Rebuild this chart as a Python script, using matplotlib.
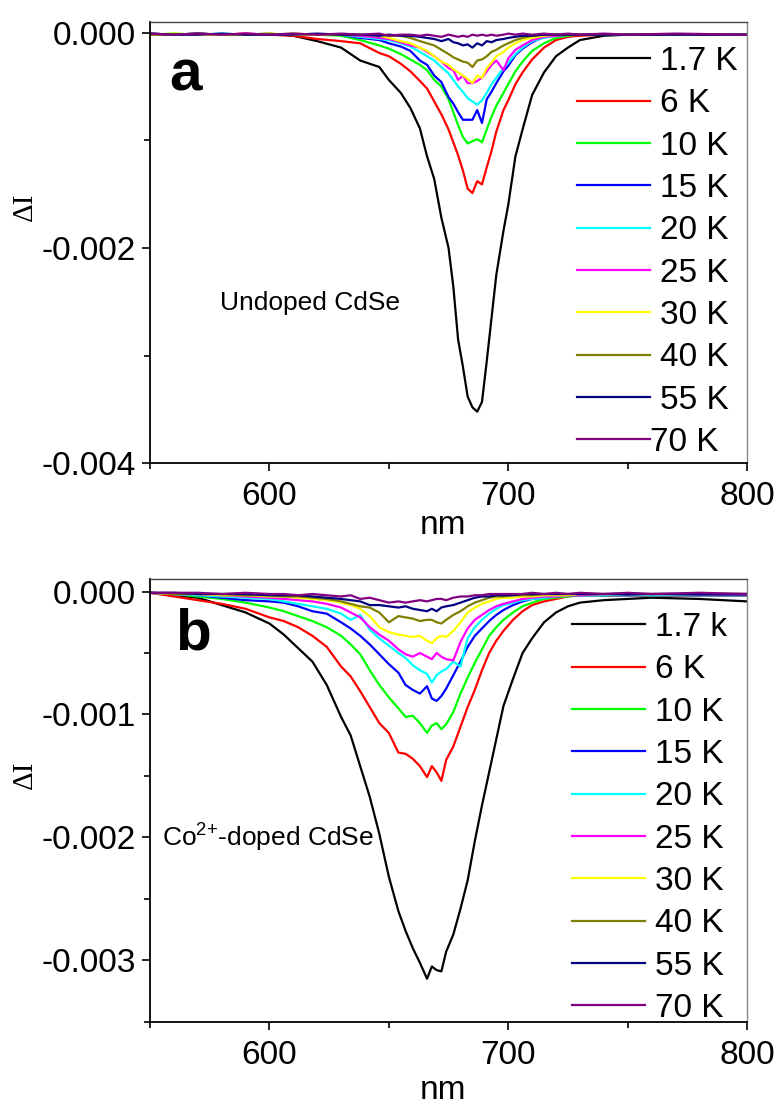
import matplotlib
matplotlib.use("Agg")
import matplotlib.pyplot as plt
from matplotlib.ticker import MultipleLocator, FormatStrFormatter

plt.rcParams['font.family'] = ['Liberation Sans', 'DejaVu Sans']
plt.rcParams['mathtext.fontset'] = 'custom'
plt.rcParams['mathtext.rm'] = 'Liberation Sans'
plt.rcParams['mathtext.it'] = 'Liberation Sans:italic'

COLORS = ['#000000', '#ff0000', '#00ff00', '#0000ff', '#00ffff',
          '#ff00ff', '#ffff00', '#808000', '#000080', '#800080']
LABELS_A = ['1.7 K', '6 K', '10 K', '15 K', '20 K', '25 K', '30 K', '40 K', '55 K', '70 K']
LABELS_B = ['1.7 k', '6 K', '10 K', '15 K', '20 K', '25 K', '30 K', '40 K', '55 K', '70 K']

# ---- panel a: undoped CdSe (values in units of 1e-3) ----
XA = [550, 560, 570, 580, 590, 600, 610, 620, 630, 638, 646, 650, 655, 659, 663, 666, 669, 672,
      675, 677, 679, 681, 683, 685, 687, 689, 691, 693, 695, 698, 700, 703, 706, 710, 715, 720,
      725, 730, 740, 750, 770, 800]
A_17K = [-0.01, -0.02, -0.01, -0.02, -0.02, -0.01, -0.03, -0.08, -0.14, -0.26, -0.32, -0.44, -0.56, -0.70,
         -0.89, -1.15, -1.36, -1.72, -2.00, -2.36, -2.85, -3.10, -3.38, -3.48, -3.52, -3.43, -3.05, -2.65,
         -2.25, -1.84, -1.60, -1.15, -0.90, -0.58, -0.37, -0.22, -0.14, -0.07, -0.03, -0.02, -0.02, -0.02]
A_6K = [-0.02, -0.02, -0.02, -0.02, -0.01, -0.02, -0.03, -0.06, -0.08, -0.10, -0.19, -0.22, -0.29, -0.36,
        -0.45, -0.52, -0.64, -0.76, -0.90, -1.02, -1.14, -1.28, -1.45, -1.49, -1.38, -1.41, -1.25, -1.10,
        -0.92, -0.72, -0.63, -0.48, -0.37, -0.25, -0.14, -0.07, -0.04, -0.03, -0.02, -0.02, -0.02, -0.02]
A_10K = [-0.02, -0.01, -0.02, -0.02, -0.02, -0.02, -0.02, -0.02, -0.03, -0.07, -0.12, -0.15, -0.20, -0.25,
         -0.30, -0.35, -0.44, -0.50, -0.62, -0.74, -0.86, -0.97, -1.03, -1.01, -0.99, -1.02, -0.90, -0.78,
         -0.68, -0.56, -0.48, -0.36, -0.27, -0.17, -0.10, -0.05, -0.03, -0.02, -0.02, -0.02, -0.02, -0.02]
A_15K = [-0.02, -0.02, -0.01, -0.02, -0.02, -0.02, -0.02, -0.02, -0.02, -0.05, -0.07, -0.10, -0.13, -0.17,
         -0.26, -0.30, -0.40, -0.46, -0.60, -0.66, -0.74, -0.81, -0.81, -0.81, -0.72, -0.84, -0.62, -0.55,
         -0.47, -0.36, -0.31, -0.21, -0.15, -0.09, -0.04, -0.03, -0.02, -0.02, -0.02, -0.02, -0.02, -0.02]
A_20K = [-0.02, -0.02, -0.02, -0.01, -0.02, -0.02, -0.02, -0.02, -0.02, -0.04, -0.06, -0.07, -0.10, -0.13,
         -0.18, -0.22, -0.26, -0.32, -0.38, -0.44, -0.50, -0.55, -0.61, -0.64, -0.67, -0.63, -0.56, -0.48,
         -0.42, -0.33, -0.28, -0.20, -0.14, -0.08, -0.05, -0.03, -0.02, -0.02, -0.02, -0.02, -0.02, -0.02]
A_25K = [-0.02, -0.02, -0.02, -0.02, -0.01, -0.02, -0.02, -0.02, -0.02, -0.03, -0.05, -0.06, -0.09, -0.12,
         -0.14, -0.18, -0.22, -0.27, -0.33, -0.35, -0.44, -0.40, -0.47, -0.47, -0.45, -0.42, -0.36, -0.30,
         -0.26, -0.35, -0.24, -0.16, -0.12, -0.07, -0.04, -0.03, -0.02, -0.02, -0.02, -0.02, -0.02, -0.02]
A_30K = [-0.02, -0.01, -0.02, -0.02, -0.02, -0.01, -0.02, -0.02, -0.02, -0.02, -0.03, -0.05, -0.08, -0.10,
         -0.14, -0.17, -0.22, -0.27, -0.30, -0.34, -0.37, -0.40, -0.43, -0.47, -0.40, -0.42, -0.33, -0.28,
         -0.22, -0.18, -0.14, -0.10, -0.07, -0.05, -0.03, -0.02, -0.02, -0.02, -0.02, -0.02, -0.02, -0.02]
A_40K = [-0.02, -0.02, -0.01, -0.02, -0.02, -0.02, -0.01, -0.02, -0.02, -0.02, -0.02, -0.03, -0.03, -0.05,
         -0.08, -0.10, -0.12, -0.16, -0.20, -0.23, -0.25, -0.27, -0.28, -0.32, -0.26, -0.25, -0.22, -0.18,
         -0.16, -0.12, -0.10, -0.07, -0.05, -0.03, -0.02, -0.02, -0.02, -0.02, -0.02, -0.02, -0.02, -0.02]
A_55K = [-0.01, -0.02, -0.02, -0.01, -0.02, -0.02, -0.02, -0.01, -0.02, -0.02, -0.03, -0.02, -0.03, -0.03,
         -0.04, -0.05, -0.06, -0.08, -0.06, -0.09, -0.10, -0.12, -0.11, -0.14, -0.10, -0.12, -0.08, -0.09,
         -0.07, -0.06, -0.05, -0.04, -0.03, -0.03, -0.02, -0.02, -0.02, -0.02, -0.02, -0.02, -0.02, -0.02]
A_70K = [-0.01, -0.02, -0.01, -0.02, -0.01, -0.02, -0.01, -0.02, -0.01, -0.02, -0.01, -0.03, -0.02, -0.02,
         -0.03, -0.02, -0.03, -0.04, -0.02, -0.03, -0.04, -0.03, -0.04, -0.02, -0.03, -0.02, -0.03, -0.02,
         -0.03, -0.02, -0.01, -0.02, -0.01, -0.02, -0.01, -0.02, -0.01, -0.02, -0.01, -0.02, -0.01, -0.02]
SERIES_A = [A_17K, A_6K, A_10K, A_15K, A_20K, A_25K, A_30K, A_40K, A_55K, A_70K]

# ---- panel b: Co2+-doped CdSe (values in units of 1e-3) ----
XB = [550, 560, 570, 580, 590, 600, 606, 612, 618, 624, 630, 634, 638, 642, 646, 650, 654, 657, 660,
      663, 666, 668, 670, 672, 674, 677, 680, 683, 686, 689, 692, 695, 698, 702, 706, 710, 715, 720,
      725, 730, 740, 750, 760, 780, 800]
B_17K = [-0.01, -0.03, -0.05, -0.11, -0.17, -0.26, -0.35, -0.46, -0.57, -0.76, -1.02, -1.17, -1.42, -1.67,
         -1.97, -2.32, -2.60, -2.76, -2.90, -3.02, -3.15, -3.05, -3.08, -3.09, -2.93, -2.79, -2.58, -2.35,
         -2.03, -1.74, -1.47, -1.20, -0.93, -0.71, -0.50, -0.38, -0.25, -0.17, -0.12, -0.09, -0.07, -0.06,
         -0.05, -0.06, -0.08]
B_6K = [-0.01, -0.04, -0.07, -0.10, -0.14, -0.21, -0.24, -0.29, -0.36, -0.45, -0.61, -0.69, -0.81, -0.94,
        -1.07, -1.15, -1.31, -1.32, -1.36, -1.42, -1.51, -1.42, -1.47, -1.54, -1.37, -1.26, -1.10, -0.94,
        -0.80, -0.64, -0.50, -0.40, -0.32, -0.23, -0.16, -0.11, -0.08, -0.06, -0.04, -0.03, -0.03, -0.03,
        -0.03, -0.03, -0.03]
B_10K = [-0.01, -0.02, -0.04, -0.06, -0.09, -0.13, -0.16, -0.20, -0.24, -0.29, -0.36, -0.43, -0.51, -0.64,
         -0.76, -0.86, -0.95, -1.02, -1.01, -1.07, -1.15, -1.09, -1.07, -1.12, -1.08, -0.98, -0.83, -0.70,
         -0.58, -0.47, -0.36, -0.29, -0.23, -0.17, -0.12, -0.09, -0.06, -0.05, -0.04, -0.03, -0.03, -0.03,
         -0.03, -0.03, -0.03]
B_15K = [-0.01, -0.02, -0.03, -0.05, -0.07, -0.08, -0.09, -0.12, -0.16, -0.18, -0.25, -0.30, -0.36, -0.43,
         -0.51, -0.59, -0.66, -0.76, -0.80, -0.83, -0.77, -0.87, -0.89, -0.85, -0.79, -0.68, -0.57, -0.45,
         -0.36, -0.30, -0.24, -0.19, -0.15, -0.11, -0.08, -0.06, -0.05, -0.04, -0.03, -0.03, -0.03, -0.03,
         -0.03, -0.03, -0.03]
B_20K = [-0.01, -0.02, -0.03, -0.04, -0.05, -0.06, -0.08, -0.10, -0.12, -0.14, -0.18, -0.23, -0.19, -0.31,
         -0.38, -0.44, -0.50, -0.54, -0.60, -0.64, -0.67, -0.74, -0.68, -0.65, -0.63, -0.57, -0.61, -0.38,
         -0.29, -0.23, -0.18, -0.14, -0.11, -0.09, -0.07, -0.06, -0.05, -0.04, -0.03, -0.03, -0.03, -0.02,
         -0.03, -0.02, -0.02]
B_25K = [-0.01, -0.02, -0.02, -0.03, -0.04, -0.05, -0.06, -0.07, -0.08, -0.10, -0.13, -0.17, -0.21, -0.29,
         -0.35, -0.40, -0.47, -0.51, -0.53, -0.50, -0.53, -0.55, -0.50, -0.53, -0.55, -0.56, -0.41, -0.30,
         -0.23, -0.19, -0.15, -0.12, -0.10, -0.08, -0.06, -0.05, -0.04, -0.04, -0.03, -0.03, -0.02, -0.02,
         -0.02, -0.02, -0.02]
B_30K = [-0.01, -0.02, -0.02, -0.03, -0.03, -0.04, -0.04, -0.05, -0.06, -0.07, -0.09, -0.11, -0.14, -0.20,
         -0.29, -0.33, -0.35, -0.36, -0.37, -0.36, -0.40, -0.42, -0.38, -0.36, -0.37, -0.32, -0.25, -0.17,
         -0.13, -0.10, -0.08, -0.06, -0.05, -0.05, -0.04, -0.04, -0.03, -0.03, -0.03, -0.02, -0.02, -0.02,
         -0.02, -0.02, -0.02]
B_40K = [-0.01, -0.02, -0.02, -0.02, -0.03, -0.03, -0.04, -0.04, -0.05, -0.06, -0.08, -0.10, -0.12, -0.13,
         -0.17, -0.25, -0.20, -0.21, -0.22, -0.24, -0.23, -0.23, -0.25, -0.26, -0.23, -0.19, -0.16, -0.12,
         -0.09, -0.07, -0.05, -0.04, -0.04, -0.03, -0.03, -0.03, -0.02, -0.02, -0.02, -0.02, -0.02, -0.02,
         -0.02, -0.02, -0.02]
B_55K = [-0.01, -0.01, -0.02, -0.02, -0.02, -0.03, -0.03, -0.03, -0.04, -0.05, -0.06, -0.07, -0.08, -0.11,
         -0.11, -0.12, -0.13, -0.12, -0.14, -0.15, -0.16, -0.14, -0.16, -0.13, -0.12, -0.11, -0.09, -0.07,
         -0.05, -0.04, -0.04, -0.03, -0.03, -0.03, -0.02, -0.02, -0.02, -0.02, -0.02, -0.02, -0.02, -0.02,
         -0.02, -0.02, -0.02]
B_70K = [-0.01, -0.01, -0.01, -0.02, -0.01, -0.02, -0.02, -0.03, -0.02, -0.03, -0.04, -0.03, -0.06, -0.05,
         -0.07, -0.09, -0.08, -0.09, -0.08, -0.07, -0.08, -0.07, -0.06, -0.06, -0.07, -0.05, -0.04, -0.04,
         -0.03, -0.03, -0.02, -0.02, -0.02, -0.02, -0.02, -0.01, -0.02, -0.01, -0.02, -0.01, -0.02, -0.01,
         -0.02, -0.01, -0.02]
SERIES_B = [B_17K, B_6K, B_10K, B_15K, B_20K, B_25K, B_30K, B_40K, B_55K, B_70K]

fig = plt.figure(figsize=(7.79, 11.04), dpi=100)
ax_a = fig.add_axes([0.1926, 0.5803, 0.7664, 0.400])
ax_b = fig.add_axes([0.1926, 0.0745, 0.7664, 0.4008])


def style_axes(ax, ymin, ymaj, ymin_step):
    ax.set_xlim(550, 800)
    ax.set_ylim(ymin, 0.0001)
    ax.xaxis.set_major_locator(MultipleLocator(100))
    ax.xaxis.set_minor_locator(MultipleLocator(50))
    ax.yaxis.set_major_locator(MultipleLocator(ymaj))
    ax.yaxis.set_minor_locator(MultipleLocator(ymin_step))
    ax.yaxis.set_major_formatter(FormatStrFormatter('%.3f'))
    ax.tick_params(which='both', direction='out', top=False, right=False, width=1.2)
    ax.tick_params(which='major', length=6, labelsize=24)
    ax.tick_params(axis='x', which='major', pad=7)
    ax.tick_params(axis='y', which='major', pad=4)
    ax.tick_params(which='minor', length=4)
    for s in ['left', 'bottom']:
        ax.spines[s].set_linewidth(1.3)
    ax.spines['top'].set_linewidth(1.0)
    ax.spines['top'].set_color('#444444')
    ax.spines['right'].set_linewidth(1.0)
    ax.spines['right'].set_color('#888888')


for ax, xs, series, labels, ymin, ymaj, ystep in [
        (ax_a, XA, SERIES_A, LABELS_A, -0.004, 0.002, 0.001),
        (ax_b, XB, SERIES_B, LABELS_B, -0.0035, 0.001, 0.0005)]:
    for vals, c, lab in zip(series, COLORS, labels):
        ax.plot(xs, [v * 1e-3 for v in vals], color=c, lw=1.6, label=lab)
    style_axes(ax, ymin, ymaj, ystep)

leg_a = ax_a.legend(loc='upper left', bbox_to_anchor=(0.715, 0.945), frameon=False, fontsize=24,
                    handlelength=2.2, handletextpad=0.3, labelspacing=0.34, borderpad=0,
                    borderaxespad=0)
ax_b.legend(loc='upper left', bbox_to_anchor=(0.707, 0.926), frameon=False, fontsize=24,
            handlelength=2.2, handletextpad=0.3, labelspacing=0.34, borderpad=0, borderaxespad=0)
# the last entry of panel a sits a little to the left, over the end of its line
leg_a.get_texts()[-1].set_position((-10, 0))

ax_a.text(0.033, 0.845, 'a', transform=ax_a.transAxes, fontsize=42, fontweight='bold', va='baseline')
ax_b.text(0.042, 0.842, 'b', transform=ax_b.transAxes, fontsize=42, fontweight='bold', va='baseline')
ax_a.text(0.117, 0.347, 'Undoped CdSe', transform=ax_a.transAxes, fontsize=19, va='baseline')
ax_b.text(0.02, 0.395, 'Co$^{2{+}}$-doped CdSe', transform=ax_b.transAxes, fontsize=19, va='baseline')

for ax, ly, xy in [(ax_a, 0.58, -0.16), (ax_b, 0.559, -0.175)]:
    ax.set_xlabel('nm', fontsize=24)
    ax.xaxis.label.set_verticalalignment('baseline')
    ax.xaxis.set_label_coords(0.491, xy)
    ax.set_ylabel('ΔI', fontsize=21, family=['Liberation Serif', 'DejaVu Serif'])
    ax.yaxis.label.set_verticalalignment('center')
    ax.yaxis.set_label_coords(-0.209, ly)

fig.savefig('out.png', dpi=100)
